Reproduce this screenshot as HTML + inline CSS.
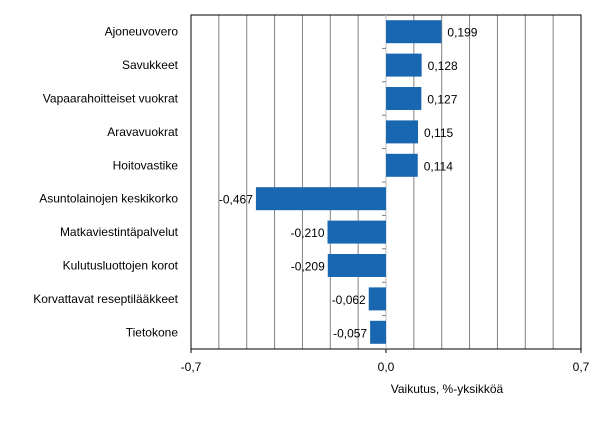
<!DOCTYPE html>
<html><head><meta charset="utf-8"><style>
body{margin:0;background:#fff;width:607px;height:418px;overflow:hidden}
text{font-family:"Liberation Sans",sans-serif;font-size:12px;fill:#000}
</style></head><body>
<svg id="chart" width="607" height="418" xmlns="http://www.w3.org/2000/svg"></svg>
<script>
const categories=["Ajoneuvovero","Savukkeet","Vapaarahoitteiset vuokrat","Aravavuokrat","Hoitovastike","Asuntolainojen keskikorko","Matkaviestintäpalvelut","Kulutusluottojen korot","Korvattavat reseptilääkkeet","Tietokone"];
const values=[0.199,0.128,0.127,0.115,0.114,-0.467,-0.210,-0.209,-0.062,-0.057];
const valueLabels=["0,199","0,128","0,127","0,115","0,114","-0,467","-0,210","-0,209","-0,062","-0,057"];
const tickValues=[-0.7,0,0.7];
const tickLabels=["-0,7","0,0","0,7"];
const svg=document.getElementById('chart');
const NS="http://www.w3.org/2000/svg";
const L=191,R=581,T=15,B=349,xmin=-0.7,xmax=0.7;
const x=v=>L+(v-xmin)/(xmax-xmin)*(R-L);
const band=(B-T)/categories.length;
const y=i=>T+i*band;
function mk(tag,attrs,parent){const e=document.createElementNS(NS,tag);for(const k in attrs)e.setAttribute(k,attrs[k]);(parent||svg).appendChild(e);return e;}
// grid
for(let k=1;k<14;k++){if(k===7)continue;const v=xmin+k*0.1;
const g=mk('line',{x1:x(v),x2:x(v),y1:T,y2:B,stroke:'#808080','stroke-width':1});

}
// frame
const fr=mk('rect',{x:L,y:T,width:R-L,height:B-T,fill:'none',stroke:'#000','stroke-width':1});


// zero line
const z=mk('line',{x1:x(0),x2:x(0),y1:T,y2:B,stroke:'#c0c0c0','stroke-width':1});


categories.forEach((c,i)=>{
 if(i>0){const t=mk('line',{x1:x(0)-4,x2:x(0),y1:y(i),y2:y(i),stroke:'#808080'});
 
 }
 const v=values[i],cy=y(i)+band/2;
 const b=mk('rect',{x:Math.min(x(0),x(v)),y:cy-11.5,width:Math.abs(x(v)-x(0)),height:23,fill:'#1a67b1'});
 
 
 const lt=mk('text',{x:178,y:cy+4,'text-anchor':'end'});lt.textContent=c;
 
 
 const vt=mk('text',v>=0?{x:x(v)+6,y:cy+5}:{x:x(v)-3,y:cy+5,'text-anchor':'end'});vt.textContent=valueLabels[i];
 
 
});
tickValues.forEach((v,i)=>{
 const t=mk('line',{x1:x(v),x2:x(v),y1:B,y2:B+4,stroke:'#000'});
 
 
 const tl=mk('text',{x:x(v),y:B+22,'text-anchor':'middle'});tl.textContent=tickLabels[i];
 
 
});
const at=mk('text',{x:447,y:393,'text-anchor':'middle'});at.textContent="Vaikutus, %-yksikköä";


</script>
</body></html>
